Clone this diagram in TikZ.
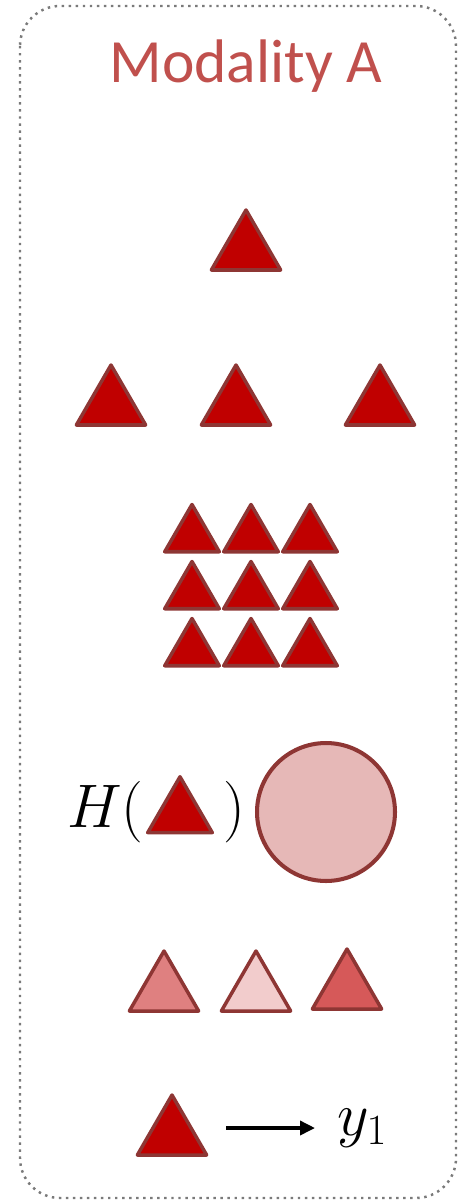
\RequirePackage{fix-cm}
\documentclass[tikz,border=0pt]{standalone}
\usepackage{fontspec}
\newfontfamily\titlefont{Carlito}
\usepackage{xcolor}
\usetikzlibrary{shapes.geometric,arrows.meta,positioning}
\definecolor{triRed}{HTML}{C00000}
\definecolor{triEdge}{HTML}{8E3634}
\definecolor{titleRed}{HTML}{C0504D}
\definecolor{frameGray}{HTML}{7A7A7A}
\definecolor{circFill}{HTML}{E6B8B7}
\tikzset{
  tri/.style    = {regular polygon, regular polygon sides=3, draw=triEdge,
                   fill=triRed, line width=2pt, line join=round,
                   inner sep=0pt, outer sep=0pt, minimum size=1.6cm},
  triS/.style   = {tri, minimum size=1.26cm},
  triM/.style   = {tri, minimum size=1.49cm},
  ent/.style    = {circle, draw=triEdge, fill=circFill, line width=2.3pt,
                   inner sep=0pt, minimum size=2.76cm},
  box/.style    = {draw=frameGray, line width=1.4pt,
                   dash pattern=on 1.4pt off 2.6pt, rounded corners=0.8cm},
  ttl/.style    = {font=\titlefont\fontsize{35}{40}\selectfont,
                   text=titleRed, inner sep=0pt},
  mth/.style    = {font=\fontsize{35}{40}\selectfont, inner sep=0pt},
  arr/.style    = {-{Triangle[length=0.3cm,width=0.28cm]}, line width=2pt}
}

\begin{document}
\begin{tikzpicture}[x=0.02cm, y=-0.02cm]
\useasboundingbox (0,0) rectangle (458,1202);
\draw[box] (20,6) rectangle (456,1198);
\node[ttl, anchor=base] (title) at (246,83) {Modality A};
% single sample
\node[tri] (one) at (246,250) {};
% a few samples
\node[tri] (few1) at (111,405) {};
\node[tri] (few2) at (236,405) {};
\node[tri] (few3) at (380,405) {};
% many samples
\node[triS] (g11) at (192,536) {};
\node[triS] (g12) at (251,536) {};
\node[triS] (g13) at (310,536) {};
\node[triS] (g21) at (192,593) {};
\node[triS] (g22) at (251,593) {};
\node[triS] (g23) at (310,593) {};
\node[triS] (g31) at (192,650) {};
\node[triS] (g32) at (251,650) {};
\node[triS] (g33) at (310,650) {};
% entropy
\node[mth, anchor=base west] (hopen) at (67,827) {$H($};
\node[triM] (htri) at (180,814) {};
\node[mth, anchor=base west] (hclose) at (223,827) {$)$};
\node[ent] (hval) at (326,812) {};
% weighted samples
\node[tri, fill=triRed!50] (w1) at (164,991) {};
\node[tri, fill=triRed!20] (w2) at (256,991) {};
\node[tri, fill=triRed!65] (w3) at (347,989) {};
% prediction
\node[tri] (pred) at (172,1135) {};
\node[mth, anchor=west] (y1) at (337,1128) {$y_1$};
\draw[arr, shorten <=0.62cm, shorten >=0.44cm] (pred.east |- y1.west) -- (y1.west);
\end{tikzpicture}
\end{document}
